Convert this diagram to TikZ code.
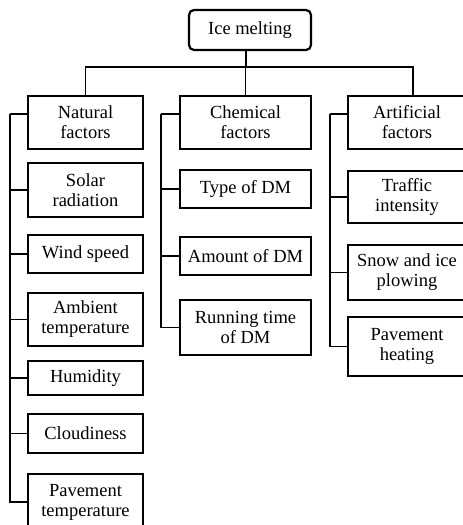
\documentclass[tikz,border=0pt]{standalone}
\usepackage{fontspec}
\setmainfont{Liberation Serif}
\usetikzlibrary{positioning,calc}

\tikzset{
    factor/.style={draw, line width=1.5pt, inner sep=0pt, align=center,
        font=\fontsize{18.5}{20}\selectfont},
    root/.style={draw, line width=2.2pt, rounded corners=5pt, inner sep=0pt,
        minimum width=122pt, minimum height=40pt, font=\fontsize{18.5}{20}\selectfont},
    link/.style={line width=1.2pt}
}

\begin{document}
\begin{tikzpicture}[x=1pt,y=-1pt]

    \useasboundingbox (0,0) rectangle (463,525);
    %\draw[step=20,help lines] (0,0) grid (463,525);

    \node[root] (ice) at (250,30) {Ice melting};

    \node[factor, minimum width=115pt, minimum height=53pt] (natural) at (85.5,122.5) {Natural\\factors};
    \node[factor, minimum width=115pt, minimum height=54pt] (solar) at (85.5,190) {Solar\\radiation};
    \node[factor, minimum width=115pt, minimum height=38pt] (wind) at (85.5,254) {Wind speed};
    \node[factor, minimum width=115pt, minimum height=53pt] (ambient) at (85.5,319.5) {Ambient\\temperature};
    \node[factor, minimum width=115pt, minimum height=34pt] (humidity) at (85.5,378) {Humidity};
    \node[factor, minimum width=115pt, minimum height=39pt] (cloud) at (85.5,433.5) {Cloudiness};
    \node[factor, minimum width=115pt, minimum height=56pt] (pavtemp) at (85.5,502) {Pavement\\temperature};

    \node[factor, minimum width=131pt, minimum height=53pt] (chemical) at (245.5,122.5) {Chemical\\factors};
    \node[factor, minimum width=131pt, minimum height=38pt] (dmtype) at (245.5,189) {Type of DM};
    \node[factor, minimum width=131pt, minimum height=38pt] (dmamount) at (245.5,256) {Amount of DM};
    \node[factor, minimum width=131pt, minimum height=55pt] (dmtime) at (245.5,327.5) {Running time\\of DM};

    \node[factor, minimum width=118pt, minimum height=53pt] (artificial) at (407,122.5) {Artificial\\factors};
    \node[factor, minimum width=118pt, minimum height=52pt] (traffic) at (407,197) {Traffic\\intensity};
    \node[factor, minimum width=118pt, minimum height=55pt] (plowing) at (407,272.5) {Snow and ice\\plowing};
    \node[factor, minimum width=118pt, minimum height=59pt] (heating) at (407,346.5) {Pavement\\heating};

    \coordinate (bar) at (246,67);
    \coordinate (natbus) at (10,114);
    \coordinate (chembus) at (161,114);
    \coordinate (artbus) at (330,114);

    \draw[link] ([xshift=-4pt]ice.south) -- (bar);
    \draw[link] (natural.north) |- (bar);
    \draw[link] (chemical.north) -- (chemical.north |- bar);
    \draw[link] ([xshift=6pt]artificial.north) |- (bar);

    \draw[link] (natbus) -- (natbus -| natural.west);
    \draw[link] (natbus) |- (pavtemp.west);
    \draw[link] (solar.west -| natbus) -- (solar.west);
    \draw[link] (wind.west -| natbus) -- (wind.west);
    \draw[link] (ambient.west -| natbus) -- (ambient.west);
    \draw[link] (humidity.west -| natbus) -- (humidity.west);
    \draw[link] (cloud.west -| natbus) -- (cloud.west);

    \draw[link] (chembus) -- (chembus -| chemical.west);
    \draw[link] (chembus) |- (dmtime.west);
    \draw[link] (dmtype.west -| chembus) -- (dmtype.west);
    \draw[link] (dmamount.west -| chembus) -- (dmamount.west);

    \draw[link] (artbus) -- (artbus -| artificial.west);
    \draw[link] (artbus) |- (heating.west);
    \draw[link] (traffic.west -| artbus) -- (traffic.west);
    \draw[link] (plowing.west -| artbus) -- (plowing.west);
\end{tikzpicture}
\end{document}
